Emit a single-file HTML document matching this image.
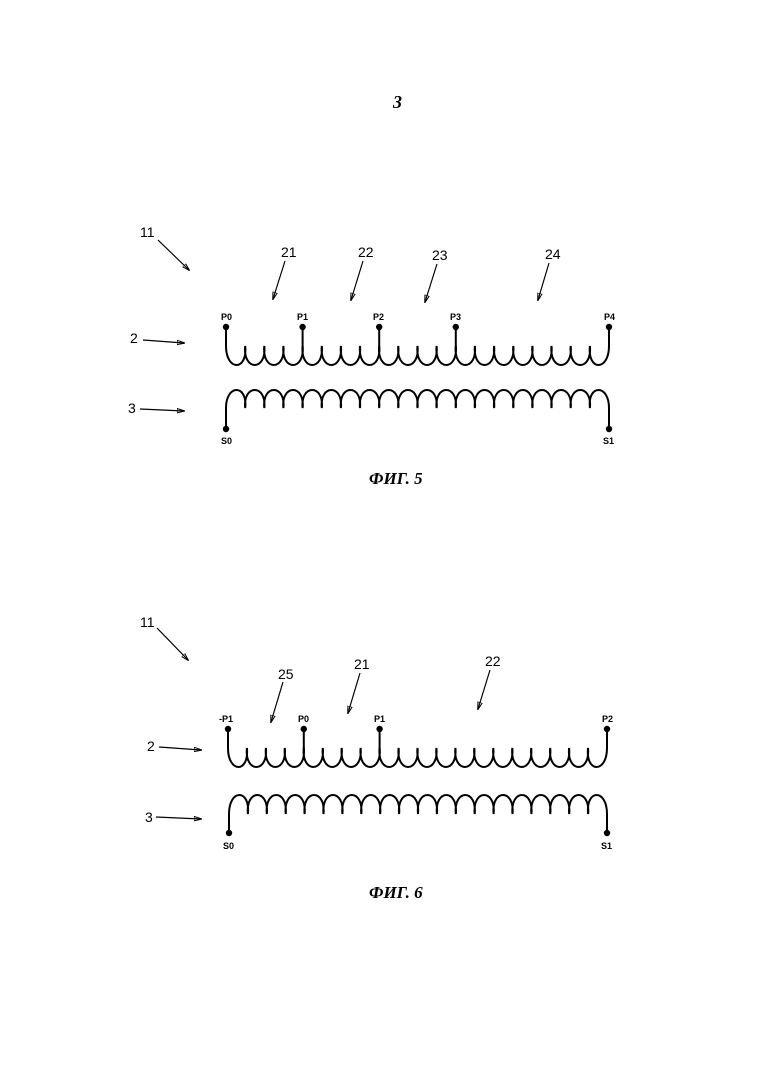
<!DOCTYPE html>
<html><head><meta charset="utf-8"><style>
html,body{margin:0;padding:0;background:#fff}
svg{display:block}
.t{font-family:"Liberation Sans",sans-serif;fill:#000}
.s{font-size:9px;font-weight:bold}
.n{font-size:14px}
.c{font-family:"Liberation Serif",serif;font-style:italic;font-weight:bold;font-size:17px}
path,line{stroke:#000;fill:none}
line{marker-end:url(#a)}
</style></head><body>
<svg id="s" width="780" height="1076" viewBox="0 0 780 1076" xmlns="http://www.w3.org/2000/svg">
<defs><marker id="a" markerWidth="8" markerHeight="6" refX="7" refY="3" orient="auto" markerUnits="userSpaceOnUse"><path d="M0,0.8 L8,3 L0,5.2 Z" fill="#000" stroke="none"/></marker></defs>
<text class="c" x="393" y="108" style="font-size:18px">3</text>
<g id="g"></g>
<text class="t n" x="140" y="237">11</text><line x1="158" y1="240" x2="189" y2="270" stroke-width="1.2"/>
<text class="t n" x="281" y="257">21</text><line x1="285" y1="261" x2="273" y2="299" stroke-width="1.2"/>
<text class="t n" x="358" y="257">22</text><line x1="363" y1="261" x2="351" y2="300" stroke-width="1.2"/>
<text class="t n" x="432" y="260">23</text><line x1="437" y1="264" x2="425" y2="302" stroke-width="1.2"/>
<text class="t n" x="545" y="259">24</text><line x1="549" y1="263" x2="538" y2="300" stroke-width="1.2"/>
<text class="t n" x="130" y="343">2</text><line x1="143" y1="340" x2="184" y2="343" stroke-width="1.2"/>
<text class="t n" x="128" y="413">3</text><line x1="140" y1="409" x2="184" y2="411" stroke-width="1.2"/>
<text class="t s" x="221" y="320">P0</text><text class="t s" x="297" y="320">P1</text><text class="t s" x="373" y="320">P2</text><text class="t s" x="450" y="320">P3</text><text class="t s" x="604" y="320">P4</text>
<text class="t s" x="221" y="444">S0</text><text class="t s" x="603" y="444">S1</text>
<text class="c" x="369" y="484">ФИГ. 5</text>
<text class="t n" x="140" y="627">11</text><line x1="157" y1="628" x2="188" y2="660" stroke-width="1.2"/>
<text class="t n" x="278" y="679">25</text><line x1="283" y1="682" x2="271" y2="722" stroke-width="1.2"/>
<text class="t n" x="354" y="669">21</text><line x1="360" y1="673" x2="348" y2="713" stroke-width="1.2"/>
<text class="t n" x="485" y="666">22</text><line x1="490" y1="670" x2="478" y2="709" stroke-width="1.2"/>
<text class="t n" x="147" y="751">2</text><line x1="159" y1="747" x2="201" y2="750" stroke-width="1.2"/>
<text class="t n" x="145" y="822">3</text><line x1="156" y1="817" x2="201" y2="819" stroke-width="1.2"/>
<text class="t s" x="219" y="722">-P1</text><text class="t s" x="298" y="722">P0</text><text class="t s" x="374" y="722">P1</text><text class="t s" x="602" y="722">P2</text>
<text class="t s" x="223" y="849">S0</text><text class="t s" x="601" y="849">S1</text>
<text class="c" x="369" y="898">ФИГ. 6</text>
</svg>
<script>
(function(){
var g=document.getElementById('g'),NS='http://www.w3.org/2000/svg';
function P(d){var p=document.createElementNS(NS,'path');p.setAttribute('d',d);p.setAttribute('stroke-width','2');g.appendChild(p);}
function C(x,y){var c=document.createElementNS(NS,'circle');c.setAttribute('cx',x);c.setAttribute('cy',y);c.setAttribute('r','3.2');c.setAttribute('fill','#000');g.appendChild(c);}
var o=2.5;
function prim(x0,x1,dotY,yc,yb,n,taps){
  var w=(x1-x0)/n,cp=yc+(yb-yc)/0.75,d='M'+x0+','+dotY+' L'+x0+','+yc;
  for(var i=0;i<n;i++){var a=x0+i*w,b=a+w;var ao=i==0?a:a-o,bo=i==n-1?b:b+o;d+=' C'+ao.toFixed(1)+','+cp.toFixed(1)+' '+bo.toFixed(1)+','+cp.toFixed(1)+' '+b.toFixed(1)+','+yc;}
  d+=' L'+x1+','+dotY;P(d);
  C(x0,dotY);C(x1,dotY);
  taps.forEach(function(k){var x=x0+k*w;P('M'+x.toFixed(1)+','+dotY+' L'+x.toFixed(1)+','+(yc+6));C(x,dotY);});
}
function sec(x0,x1,dotY,yc,yt,n){
  var w=(x1-x0)/n,cp=yc-(yc-yt)/0.75,d='M'+x0+','+dotY+' L'+x0+','+yc;
  for(var i=0;i<n;i++){var a=x0+i*w,b=a+w;var ao=i==0?a:a-o,bo=i==n-1?b:b+o;d+=' C'+ao.toFixed(1)+','+cp.toFixed(1)+' '+bo.toFixed(1)+','+cp.toFixed(1)+' '+b.toFixed(1)+','+yc;}
  d+=' L'+x1+','+dotY;P(d);C(x0,dotY);C(x1,dotY);
}
prim(226,609,327,346,365,20,[4,8,12]);
sec(226,609,429,408,390,20);
prim(228,607,729,748,767,20,[4,8]);
sec(229,607,833,814,795,20);
})();
</script>
</body></html>
